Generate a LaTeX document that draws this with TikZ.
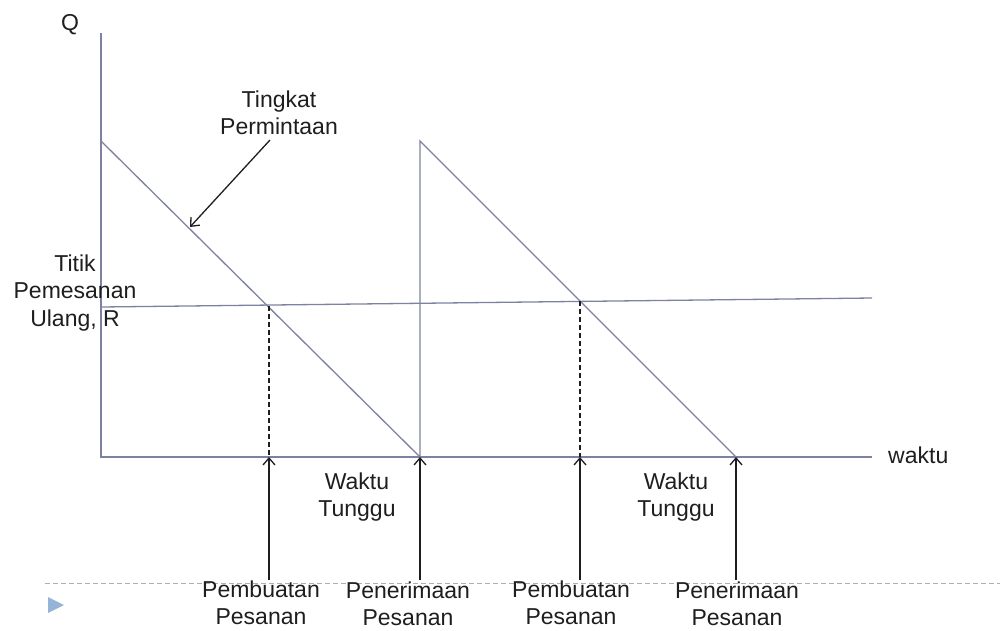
\documentclass[tikz,border=0pt]{standalone}
\usepackage{fontspec}
\setmainfont{Liberation Sans}
\usetikzlibrary{arrows.meta}
\definecolor{axiscol}{RGB}{125,130,160}
\definecolor{sepcol}{RGB}{175,175,175}
\definecolor{bulletcol}{RGB}{150,180,215}
\definecolor{txtcol}{RGB}{30,30,30}
\tikzset{
  axis/.style={draw=axiscol, line width=1.3pt},
  drop/.style={draw=txtcol, line width=1.1pt, dash pattern=on 5pt off 3pt},
  uparrow/.style={draw=txtcol, line width=1.3pt, -{Straight Barb[length=7pt,width=12pt,line width=1.3pt]}},
  lbl/.style={text=txtcol, font=\fontsize{23}{27.5}\selectfont, align=center, inner sep=0pt},
}
\begin{document}
\begin{tikzpicture}[x=1pt,y=-1pt]
\useasboundingbox (0,0) rectangle (1000,630);
% coordinates
\coordinate (O) at (101,457);
\coordinate (Ytop) at (101,33);
\coordinate (Xend) at (872,457);
\coordinate (A) at (101,141);
\coordinate (B) at (420,457);
\coordinate (C) at (420,141);
\coordinate (D) at (736,457);
\coordinate (Rl) at (101,307);
\coordinate (Rr) at (872,298);
\coordinate (P1) at (269,306);
\coordinate (P2) at (580,301.4);
\coordinate (P1b) at (269,457);
\coordinate (P2b) at (580,457);
\coordinate (a1) at (269,580);
\coordinate (a2) at (420,580);
\coordinate (a3) at (580,580);
\coordinate (a4) at (736,580);
\coordinate (T1) at (270,140);
\coordinate (T2) at (190,227);
\coordinate (S1) at (45,583);
\coordinate (S2) at (1000,583);
% separator and bullet
\draw[sepcol, line width=0.9pt, dash pattern=on 5pt off 3pt] (S1) -- (S2);
\fill[bulletcol] (48,597) -- (64,605) -- (48,613) -- cycle;
% axes
\draw[axis] (Ytop) -- (O) -- (Xend);
% sawtooth
\draw[axis] (A) -- (B) -- (C) -- (D);
% reorder point line
\draw[axis] (Rl) -- (Rr);
% dashed drops
\draw[drop] (P1) -- (P1b);
\draw[drop] (P2) -- (P2b);
% arrows
\draw[uparrow] (a1) -- (P1b);
\draw[uparrow] (a2) -- (B);
\draw[uparrow] (a3) -- (P2b);
\draw[uparrow] (a4) -- (D);
\draw[uparrow] (T1) -- (T2);
% labels
\node[lbl] (q) at (70,25) {Q};
\node[lbl, anchor=west] (waktu) at (888,455) {waktu};
\node[lbl] (tp) at (279,113) {Tingkat\\Permintaan};
\node[lbl] (r) at (75,293) {Titik\\Pemesanan\\Ulang, R};
\node[lbl] (w1) at (357,497) {Waktu\\Tunggu};
\node[lbl] (w2) at (676,497) {Waktu\\Tunggu};
\node[lbl] (pb1) at (261,603) {Pembuatan\\Pesanan};
\node[lbl] (pn1) at (408,604) {Penerimaan\\Pesanan};
\node[lbl] (pb2) at (571,603) {Pembuatan\\Pesanan};
\node[lbl] (pn2) at (737,604) {Penerimaan\\Pesanan};
\end{tikzpicture}
\end{document}
